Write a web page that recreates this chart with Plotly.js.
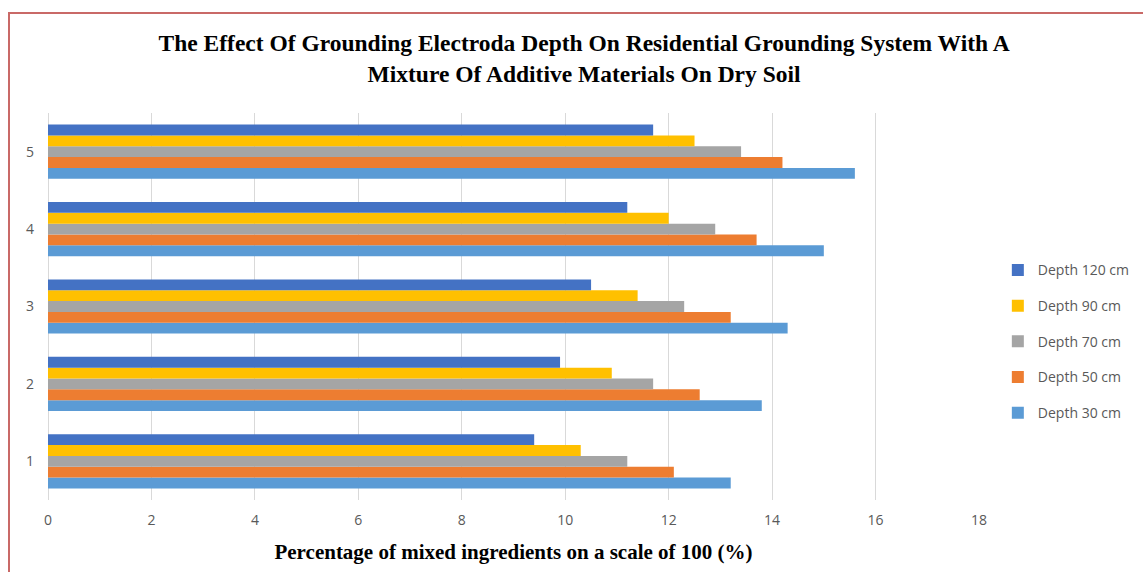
<!DOCTYPE html>
<html>
<head>
<meta charset="utf-8">
<script src="https://cdn.plot.ly/plotly-3.0.1.min.js"></script>
<style>
html,body{margin:0;padding:0;background:#fff;}
#chart{width:1143px;height:572px;}
#frame{position:absolute;left:8px;top:12px;width:1200px;height:700px;border-left:2px solid #C0504D;border-top:2px solid #C0504D;pointer-events:none;opacity:0.85;}
</style>
</head>
<body>
<div id="chart"></div>
<div id="frame"></div>
<script>
const categories = ["1", "2", "3", "4", "5"];
const seriesNames = ["Depth 30 cm", "Depth 50 cm", "Depth 70 cm", "Depth 90 cm", "Depth 120 cm"];
const depth30 = [13.2, 13.8, 14.3, 15.0, 15.6];
const depth50 = [12.1, 12.6, 13.2, 13.7, 14.2];
const depth70 = [11.2, 11.7, 12.3, 12.9, 13.4];
const depth90 = [10.3, 10.9, 11.4, 12.0, 12.5];
const depth120 = [9.4, 9.9, 10.5, 11.2, 11.7];
const xTicks = [0, 2, 4, 6, 8, 10, 12, 14, 16, 18];

const seriesValues = [depth30, depth50, depth70, depth90, depth120];
const colors = ["#5B9BD5", "#ED7D31", "#A5A5A5", "#FFC000", "#4472C4"];

const traces = seriesValues.map((vals, i) => ({
  type: "bar",
  orientation: "h",
  name: seriesNames[i],
  legendgroup: "g" + i,
  legendrank: 10 - i,
  y: categories,
  x: vals,
  marker: {color: colors[i]},
  hoverinfo: "x+name"
}));

const layout = {
  width: 1143,
  height: 572,
  paper_bgcolor: "#ffffff",
  plot_bgcolor: "#ffffff",
  margin: {l: 48, r: 164, t: 113, b: 72, autoexpand: false},
  barmode: "group",
  bargap: 0.3,
  bargroupgap: 0,
  title: {
    text: "<b>The Effect Of Grounding Electroda Depth On Residential Grounding System With A<br>Mixture Of Additive Materials On Dry Soil</b>",
    font: {family: "Liberation Serif, Times New Roman, serif", size: 23.5, color: "#000000"},
    x: 0.511, xanchor: "center",
    y: 0.91, yanchor: "top"
  },
  xaxis: {
    range: [0, 18],
    tickvals: xTicks,
    ticktext: xTicks.map(String),
    showgrid: true,
    gridcolor: "#D9D9D9",
    gridwidth: 1,
    zeroline: true,
    zerolinecolor: "#D9D9D9",
    zerolinewidth: 1,
    showline: false,
    ticks: "",
    ticklen: 0,
    ticklabelstandoff: 10,
    tickfont: {family: "Open Sans, Lato, sans-serif", size: 14, color: "#595959"},
    title: {
      text: "<b>Percentage of mixed ingredients on a scale of 100 (%)</b>",
      font: {family: "Liberation Serif, Times New Roman, serif", size: 21, color: "#000000"},
      standoff: 16
    }
  },
  yaxis: {
    type: "category",
    range: [-0.5, 4.5],
    showgrid: false,
    zeroline: false,
    showline: false,
    ticks: "",
    ticklabelstandoff: 13,
    tickfont: {family: "Open Sans, Lato, sans-serif", size: 14, color: "#595959"}
  },
  legend: {
    xref: "container",
    x: 0.873, xanchor: "left",
    y: 0.41, yanchor: "middle",
    traceorder: "grouped",
    tracegroupgap: 14.5,
    font: {family: "Open Sans, Lato, sans-serif", size: 14, color: "#595959"},
    bgcolor: "rgba(0,0,0,0)",
    itemwidth: 30
  },
  showlegend: true
};

Plotly.newPlot("chart", traces, layout, {displayModeBar: false, staticPlot: true});
</script>
</body>
</html>
